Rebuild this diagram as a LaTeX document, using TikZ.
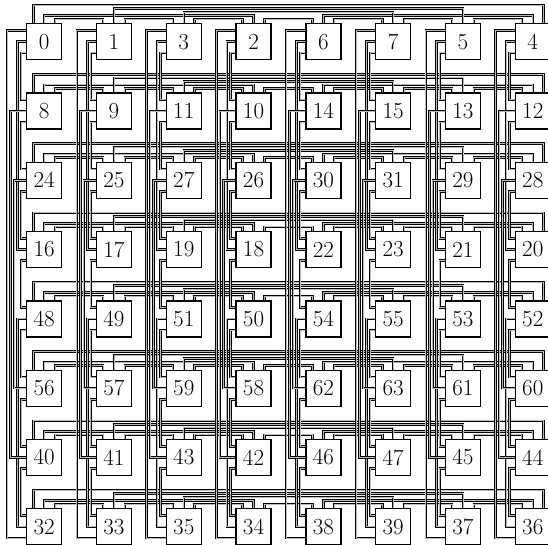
\documentclass[tikz,border=0pt]{standalone}
\usetikzlibrary{calc}
\pgfdeclarelayer{bg}
\pgfsetlayers{bg,main}
\tikzset{
  pbox/.style={draw, line width=1.3pt, fill=white, minimum width=35pt,
    minimum height=36pt, inner sep=0pt, anchor=north west,
    font=\fontsize{23}{23}\selectfont},
  wire/.style={draw=black, line width=0.8pt, double=gray!55, double distance=0.9pt},
}
\begin{document}
\begin{tikzpicture}[x=1pt,y=-1pt]
\useasboundingbox (0,0) rectangle (548,544);
% processor boxes
\foreach \r in {0,...,7}{
  \foreach \c in {0,...,7}{
    \pgfmathtruncatemacro\gr{{0,1,3,2,6,7,5,4}[\r]}
    \pgfmathtruncatemacro\gc{{0,1,3,2,6,7,5,4}[\c]}
    \pgfmathtruncatemacro\v{8*\gr+\gc}
    \node[pbox] (n-\r-\c) at (26+69.8*\c, 23+69.3*\r) {\v};
  }
}
\begin{pgfonlayer}{bg}
% horizontal (row) links
\foreach \r in {0,...,7}{
  \foreach \a/\b/\k/\sa/\sb in {0/1/1/0.8/0.2, 1/2/1/0.8/0.2, 2/3/1/0.8/0.2,
      3/4/1/0.8/0.2, 4/5/1/0.8/0.2, 5/6/1/0.8/0.2, 6/7/1/0.8/0.2,
      0/3/2/0.5/0.5, 4/7/2/0.5/0.5, 2/5/3/0.5/0.5, 1/6/4/0.5/0.5, 0/7/5/0.2/0.8}{
    \pgfmathsetmacro\d{4+3.5*(\k-1)}
    \draw[wire] ($(n-\r-\a.north west)!\sa!(n-\r-\a.north east)$) -- ++(0,-\d)
       -| ($(n-\r-\b.north west)!\sb!(n-\r-\b.north east)$);
  }
}
% vertical (column) links
\foreach \c in {0,...,7}{
  \foreach \a/\b/\k/\sa/\sb in {0/1/1/0.8/0.2, 1/2/1/0.8/0.2, 2/3/1/0.8/0.2,
      3/4/1/0.8/0.2, 4/5/1/0.8/0.2, 5/6/1/0.8/0.2, 6/7/1/0.8/0.2,
      0/3/2/0.5/0.5, 4/7/2/0.5/0.5, 2/5/3/0.5/0.5, 1/6/4/0.5/0.5, 0/7/5/0.2/0.8}{
    \pgfmathsetmacro\d{5+3.5*(\k-1)}
    \draw[wire] ($(n-\a-\c.north west)!\sa!(n-\a-\c.south west)$) -- ++(-\d,0)
       |- ($(n-\b-\c.north west)!\sb!(n-\b-\c.south west)$);
  }
}
\end{pgfonlayer}
\end{tikzpicture}
\end{document}
